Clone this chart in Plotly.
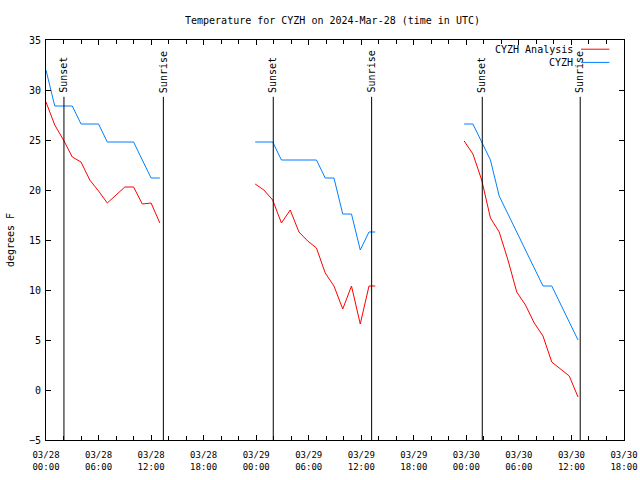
import plotly.graph_objects as go

# ---------------- data ----------------
seg1_times = ["2024-03-28 00:00", "2024-03-28 01:00", "2024-03-28 02:00", "2024-03-28 03:00",
              "2024-03-28 04:00", "2024-03-28 05:00", "2024-03-28 06:00", "2024-03-28 07:00",
              "2024-03-28 08:00", "2024-03-28 09:00", "2024-03-28 10:00", "2024-03-28 11:00",
              "2024-03-28 12:00", "2024-03-28 13:00"]
seg1_analysis = [28.8, 26.5, 25.0, 23.3, 22.8, 21.0, 19.9, 18.7, 19.5, 20.3, 20.3, 18.6, 18.7, 16.7]
seg1_obs = [32.0, 28.4, 28.4, 28.4, 26.6, 26.6, 26.6, 24.8, 24.8, 24.8, 24.8, 23.0, 21.2, 21.2]

seg2_times = ["2024-03-28 23:53", "2024-03-29 00:53", "2024-03-29 01:53", "2024-03-29 02:53",
              "2024-03-29 03:53", "2024-03-29 04:53", "2024-03-29 05:53", "2024-03-29 06:53",
              "2024-03-29 07:53", "2024-03-29 08:53", "2024-03-29 09:53", "2024-03-29 10:53",
              "2024-03-29 11:53", "2024-03-29 12:53", "2024-03-29 13:36"]
seg2_analysis = [20.6, 20.0, 19.0, 16.7, 18.0, 15.8, 14.9, 14.2, 11.7, 10.4, 8.1, 10.4, 6.6, 10.4, 10.4]
seg2_obs = [24.8, 24.8, 24.8, 23.0, 23.0, 23.0, 23.0, 23.0, 21.2, 21.2, 17.6, 17.6, 14.0, 15.8, 15.8]

seg3_times = ["2024-03-29 23:45", "2024-03-30 00:45", "2024-03-30 01:45", "2024-03-30 02:45",
              "2024-03-30 03:45", "2024-03-30 04:45", "2024-03-30 05:45", "2024-03-30 06:45",
              "2024-03-30 07:45", "2024-03-30 08:45", "2024-03-30 09:45", "2024-03-30 10:45",
              "2024-03-30 11:45", "2024-03-30 12:45"]
seg3_analysis = [24.9, 23.6, 21.0, 17.2, 15.8, 13.0, 9.8, 8.5, 6.7, 5.4, 2.8, 2.1, 1.4, -0.7]
seg3_obs = [26.6, 26.6, 24.8, 23.0, 19.4, 17.6, 15.8, 14.0, 12.2, 10.4, 10.4, 8.6, 6.8, 5.0]

sun_labels = ["Sunset", "Sunrise", "Sunset", "Sunrise", "Sunset", "Sunrise"]
sun_times = ["2024-03-28 02:03", "2024-03-28 13:24", "2024-03-29 01:57",
             "2024-03-29 13:11", "2024-03-30 01:49", "2024-03-30 13:00"]

series_names = ["CYZH Analysis", "CYZH"]
x_range = ["2024-03-28 00:00", "2024-03-30 18:00"]
y_range = [-5, 35]

# ---------------- build ----------------
def join(*segs):
    out = []
    for i, s in enumerate(segs):
        if i:
            out.append(None)
        out.extend(s)
    return out

times = join(seg1_times, seg2_times, seg3_times)
analysis = join(seg1_analysis, seg2_analysis, seg3_analysis)
obs = join(seg1_obs, seg2_obs, seg3_obs)

RED = "#ff0000"
BLUE = "#0080ff"
FONT = "DejaVu Sans Mono"

W, H = 640, 480

fig = go.Figure()
fig.add_trace(go.Scatter(x=times, y=analysis, mode="lines", name=series_names[0],
                         line=dict(color=RED, width=1), connectgaps=False, showlegend=False))
fig.add_trace(go.Scatter(x=times, y=obs, mode="lines", name=series_names[1],
                         line=dict(color=BLUE, width=1), connectgaps=False, showlegend=False))

shapes = []
annotations = []
for lab, t in zip(sun_labels, sun_times):
    shapes.append(dict(type="line", xref="x", yref="paper", x0=t, x1=t, y0=0, y1=0.858,
                       line=dict(color="black", width=1)))
    annotations.append(dict(x=t, y=0.863, xref="x", yref="paper", text=lab, textangle=-90,
                            showarrow=False, xanchor="center", yanchor="bottom",
                            font=dict(family=FONT, size=10, color="black")))

# legend drawn gnuplot-style (text left of line sample)
leg_y = [0.976, 0.943]
for name, col, yy in zip(series_names, [RED, BLUE], leg_y):
    annotations.append(dict(x=0.916, y=yy, xref="paper", yref="paper", text=name,
                            showarrow=False, xanchor="right", yanchor="middle",
                            font=dict(family=FONT, size=10, color="black")))
    shapes.append(dict(type="line", xref="paper", yref="paper", x0=0.9256, x1=0.9746,
                       y0=yy + 0.001, y1=yy + 0.001, line=dict(color=col, width=1)))

fig.update_layout(
    width=W, height=H,
    margin=dict(l=46, r=16, t=40, b=40, autoexpand=False),
    paper_bgcolor="white", plot_bgcolor="white",
    font=dict(family=FONT, size=10, color="black"),
    title=dict(text="Temperature for CYZH on 2024-Mar-28 (time in UTC)",
               x=332.5 / W, xref="container", xanchor="center",
               y=1 - 20 / H, yref="container", yanchor="middle",
               font=dict(family=FONT, size=10, color="black")),
    shapes=shapes, annotations=annotations, showlegend=False,
)
fig.update_xaxes(
    type="date", range=x_range, showgrid=False, zeroline=False,
    showline=True, linecolor="black", linewidth=1, mirror="allticks",
    ticks="inside", ticklen=5, tickcolor="black",
    tick0="2024-03-28 00:00", dtick=6 * 3600 * 1000,
    tickformat="%m/%d<br>%H:%M", tickfont=dict(family=FONT, size=9),
    ticklabelstandoff=6, ticklabeloverflow="allow",
    minor=dict(dtick=2 * 3600 * 1000, ticks="inside", ticklen=4, tickcolor="black", showgrid=False),
)
fig.update_yaxes(
    range=y_range, showgrid=False, zeroline=False,
    showline=True, linecolor="black", linewidth=1, mirror="allticks",
    ticks="inside", ticklen=5, tickcolor="black", dtick=5, tick0=0,
    tickfont=dict(family=FONT, size=10), ticklabelstandoff=2,
    title=dict(text="degrees F", font=dict(family=FONT, size=10), standoff=12),
)

# remove the default 8px page margin so the 640x480 figure fills the window exactly
fig.write_html("out.html", config={"displayModeBar": False},
               post_script="document.body.style.margin='0px';")
